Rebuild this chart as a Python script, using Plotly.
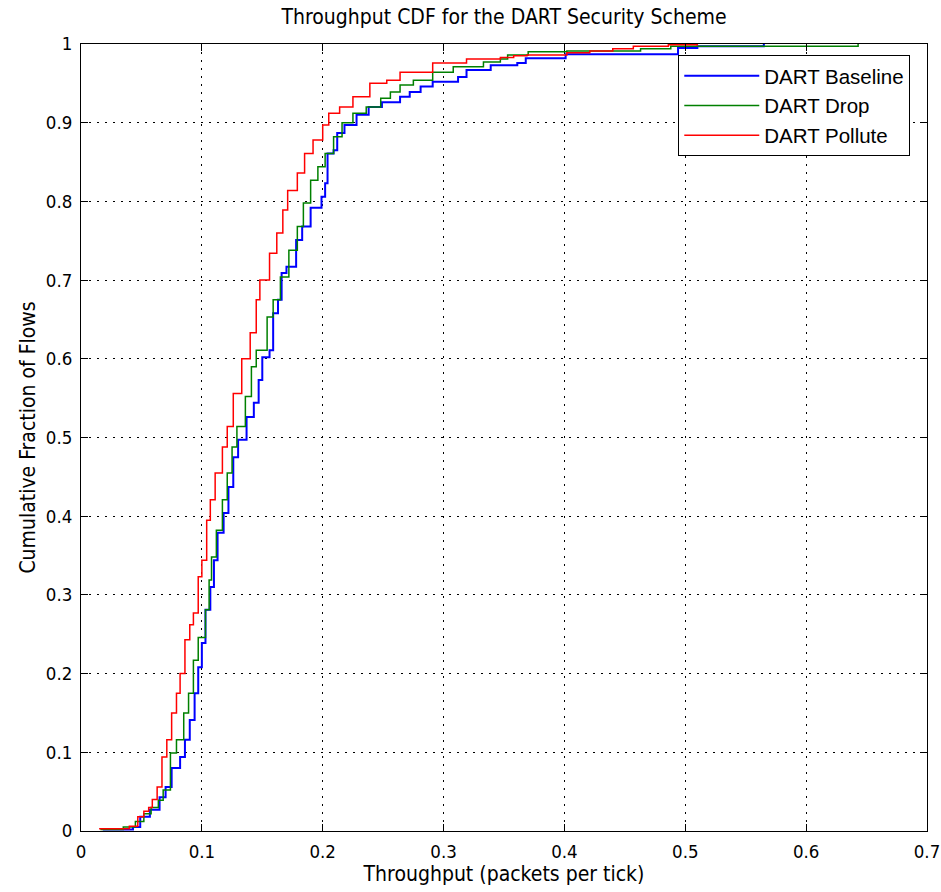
import plotly.graph_objects as go

baseline_x = [0.018, 0.043, 0.049, 0.057, 0.065, 0.070, 0.075, 0.082, 0.086, 0.090, 0.094, 0.097, 0.100,
              0.103, 0.107, 0.110, 0.113, 0.118, 0.122, 0.126, 0.130, 0.137, 0.143, 0.147, 0.150, 0.156,
              0.159, 0.163, 0.166, 0.170, 0.178, 0.183, 0.190, 0.199, 0.202, 0.204, 0.209, 0.212, 0.218,
              0.228, 0.238, 0.249, 0.264, 0.272, 0.281, 0.291, 0.312, 0.319, 0.339, 0.361, 0.368, 0.401,
              0.494, 0.510, 0.565]
baseline_y = [0.002, 0.005, 0.018, 0.027, 0.043, 0.056, 0.080, 0.094, 0.116, 0.141, 0.175, 0.208, 0.239,
              0.281, 0.310, 0.344, 0.379, 0.404, 0.437, 0.475, 0.497, 0.526, 0.544, 0.573, 0.602, 0.611,
              0.658, 0.675, 0.709, 0.717, 0.751, 0.768, 0.792, 0.806, 0.823, 0.861, 0.865, 0.887, 0.897,
              0.910, 0.920, 0.926, 0.933, 0.939, 0.946, 0.952, 0.958, 0.967, 0.973, 0.976, 0.982, 0.987,
              0.995, 0.997, 1.0]

drop_x = [0.016, 0.035, 0.045, 0.052, 0.058, 0.064, 0.068, 0.074, 0.079, 0.085, 0.089, 0.093, 0.097,
          0.103, 0.106, 0.108, 0.112, 0.117, 0.121, 0.125, 0.129, 0.136, 0.141, 0.145, 0.154, 0.159,
          0.165, 0.172, 0.179, 0.184, 0.190, 0.196, 0.202, 0.209, 0.216, 0.225, 0.236, 0.248, 0.256,
          0.264, 0.275, 0.291, 0.308, 0.333, 0.347, 0.353, 0.370, 0.402, 0.463, 0.488, 0.643]
drop_y = [0.002, 0.005, 0.012, 0.022, 0.030, 0.039, 0.052, 0.099, 0.116, 0.150, 0.175, 0.217, 0.246,
          0.281, 0.319, 0.348, 0.382, 0.421, 0.455, 0.488, 0.514, 0.552, 0.590, 0.611, 0.653, 0.675,
          0.704, 0.738, 0.768, 0.798, 0.827, 0.844, 0.861, 0.882, 0.900, 0.912, 0.920, 0.931, 0.939,
          0.948, 0.954, 0.964, 0.971, 0.977, 0.981, 0.986, 0.990, 0.991, 0.994, 0.997, 1.0]

pollute_x = [0.015, 0.040, 0.047, 0.052, 0.056, 0.059, 0.063, 0.067, 0.071, 0.075, 0.079, 0.082, 0.086,
             0.090, 0.093, 0.097, 0.100, 0.104, 0.107, 0.111, 0.117, 0.121, 0.126, 0.133, 0.140, 0.145,
             0.148, 0.156, 0.162, 0.167, 0.171, 0.179, 0.185, 0.192, 0.200, 0.205, 0.214, 0.225, 0.239,
             0.253, 0.264, 0.291, 0.319, 0.347, 0.358, 0.369, 0.402, 0.421, 0.440, 0.457, 0.486, 0.510]
pollute_y = [0.003, 0.006, 0.018, 0.025, 0.030, 0.040, 0.056, 0.094, 0.116, 0.150, 0.175, 0.200, 0.243,
             0.262, 0.277, 0.323, 0.344, 0.395, 0.421, 0.455, 0.488, 0.514, 0.556, 0.600, 0.633, 0.675,
             0.700, 0.734, 0.760, 0.789, 0.814, 0.836, 0.861, 0.878, 0.897, 0.912, 0.920, 0.933, 0.950,
             0.954, 0.964, 0.976, 0.981, 0.983, 0.985, 0.986, 0.989, 0.991, 0.994, 0.997, 0.999, 1.0]

x_ticks = [0, 0.1, 0.2, 0.3, 0.4, 0.5, 0.6, 0.7]
x_labels = ["0", "0.1", "0.2", "0.3", "0.4", "0.5", "0.6", "0.7"]
y_ticks = [0, 0.1, 0.2, 0.3, 0.4, 0.5, 0.6, 0.7, 0.8, 0.9, 1]
y_labels = ["0", "0.1", "0.2", "0.3", "0.4", "0.5", "0.6", "0.7", "0.8", "0.9", "1"]

narrow = "Liberation Sans Narrow, Arial Narrow, DejaVu Sans Condensed, Liberation Sans, Arial, sans-serif"

fig = go.Figure()
fig.add_trace(go.Scatter(x=baseline_x, y=baseline_y, mode="lines", name="DART Baseline", legendgroup="b",
                         line=dict(color="#0000FF", width=2, shape="hv")))
fig.add_trace(go.Scatter(x=drop_x, y=drop_y, mode="lines", name="DART Drop", legendgroup="d",
                         line=dict(color="#008000", width=1.5, shape="hv")))
fig.add_trace(go.Scatter(x=pollute_x, y=pollute_y, mode="lines", name="DART Pollute", legendgroup="p",
                         line=dict(color="#FF0000", width=1.5, shape="hv")))

axis_common = dict(
    showline=True, linecolor="black", linewidth=1, mirror="ticks",
    ticks="inside", ticklen=7, tickcolor="black", tickwidth=1,
    showgrid=True, gridcolor="black", gridwidth=1, griddash="2px,6px",
    zeroline=False, automargin=False, ticklabeloverflow="allow",
    tickfont=dict(family=narrow, size=18.5, color="black"),
)

fig.update_layout(
    width=941, height=892,
    margin=dict(l=81, r=14, t=44, b=61),
    paper_bgcolor="white", plot_bgcolor="white",
    title=dict(text="Throughput CDF for the DART Security Scheme", x=0.5, xref="paper", xanchor="center",
               y=0.99, yanchor="top", font=dict(family=narrow, size=21, color="black")),
    xaxis=dict(range=[0, 0.700001], tickvals=x_ticks, ticktext=x_labels, ticklabelstandoff=4,
               title=dict(text="Throughput (packets per tick)", standoff=4,
                          font=dict(family=narrow, size=21, color="black")),
               **axis_common),
    yaxis=dict(range=[0, 1.000001], tickvals=y_ticks, ticktext=y_labels, ticklabelstandoff=4,
               title=dict(text="Cumulative Fraction of Flows", standoff=4,
                          font=dict(family=narrow, size=21, color="black")),
               **axis_common),
    legend=dict(x=0.706, y=0.986, xanchor="left", yanchor="top",
                bgcolor="white", bordercolor="black", borderwidth=1,
                font=dict(family="Liberation Sans, Arial, sans-serif", size=20.5, color="black"),
                itemwidth=75, tracegroupgap=0),
    showlegend=True,
)

fig.write_html("out.html")
